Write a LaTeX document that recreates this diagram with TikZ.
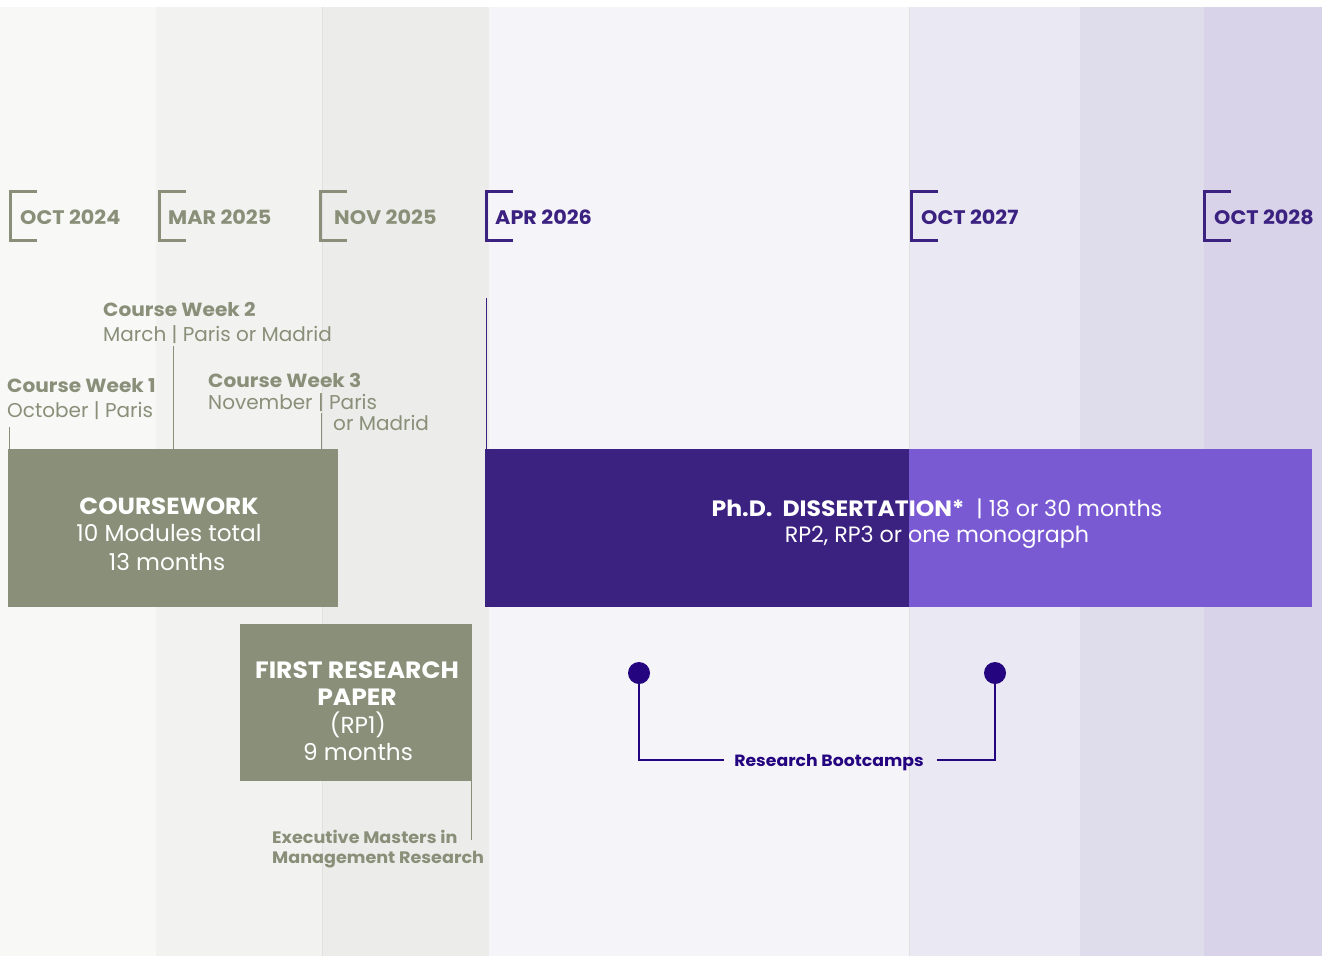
\documentclass[tikz,border=0pt]{standalone}
\usepackage{fontspec}
\setmainfont{Poppins}[BoldFeatures={FakeStretch=1.06}]
\definecolor{bandA}{HTML}{F8F8F6}
\definecolor{bandB}{HTML}{F2F2F0}
\definecolor{bandC}{HTML}{ECECEA}
\definecolor{bandD}{HTML}{F5F4F9}
\definecolor{bandE}{HTML}{EAE8F3}
\definecolor{bandF}{HTML}{DFDCEC}
\definecolor{bandG}{HTML}{D8D3E8}
\definecolor{olive}{HTML}{898F78}
\definecolor{purpleD}{HTML}{3B2180}
\definecolor{purpleL}{HTML}{7A5AD3}
\definecolor{navy}{HTML}{25057F}
\begin{document}
\begin{tikzpicture}[x=1pt,y=-1pt,
  datelbl/.style={anchor=base west,inner sep=0pt,font=\fontsize{19.6}{24}\selectfont\bfseries},
  brk/.style={line width=3pt},
  cwtitle/.style={anchor=base west,inner sep=0pt,text=olive,font=\fontsize{19}{23}\selectfont\bfseries},
  cwsub/.style={anchor=base west,inner sep=0pt,text=olive,font=\fontsize{20}{24}\selectfont},
  thinline/.style={olive,line width=1.3pt},
  boxtxt/.style={anchor=base,inner sep=0pt,text=white,font=\fontsize{23.2}{27}\selectfont},
  boxbold/.style={boxtxt,font=\fontsize{23.3}{27}\selectfont\bfseries},
  dot/.style={circle,fill=navy,minimum size=22pt,inner sep=0pt}]
\useasboundingbox (0,0) rectangle (1322,956);
\fill[white] (0,0) rectangle (1322,956);
% background bands
\fill[bandA] (0,7) rectangle (156,956);
\fill[bandB] (156,7) rectangle (322,956);
\fill[bandC] (322,7) rectangle (489,956);
\fill[bandD] (489,7) rectangle (909,956);
\fill[bandE] (909,7) rectangle (1080,956);
\fill[bandF] (1080,7) rectangle (1204,956);
\fill[bandG] (1204,7) rectangle (1322,956);
\draw[color=black!12,line width=0.6pt] (322.3,7) -- (322.3,956);
\draw[color=black!12,line width=0.6pt] (909.3,7) -- (909.3,956);
% date brackets
\draw[brk,olive] (37,191.5) -- (10,191.5) -- (10,240) -- (37,240);
\draw[brk,olive] (186,191.5) -- (159,191.5) -- (159,240) -- (186,240);
\draw[brk,olive] (347,191.5) -- (320,191.5) -- (320,240) -- (347,240);
\draw[brk,purpleD] (513,191.5) -- (486,191.5) -- (486,240) -- (513,240);
\draw[brk,purpleD] (938,191.5) -- (911,191.5) -- (911,240) -- (938,240);
\draw[brk,purpleD] (1231,191.5) -- (1204,191.5) -- (1204,240) -- (1231,240);
\node[datelbl,text=olive] (d1) at (20,224) {OCT 2024};
\node[datelbl,text=olive] (d2) at (168,224) {MAR 2025};
\node[datelbl,text=olive] (d3) at (334,224) {NOV 2025};
\node[datelbl,text=purpleD] (d4) at (495,224) {APR 2026};
\node[datelbl,text=purpleD] (d5) at (921,224) {OCT 2027};
\node[datelbl,text=purpleD] (d6) at (1214,224) {OCT 2028};
% course weeks
\node[cwtitle] (cw2t) at (103,316) {Course Week 2};
\node[cwsub] (cw2s) at (103,341) {March | Paris or Madrid};
\node[cwtitle] (cw1t) at (7,392) {Course Week 1};
\node[cwsub] (cw1s) at (7,417) {October | Paris};
\node[cwtitle] (cw3t) at (208,387) {Course Week 3};
\node[cwsub] (cw3s) at (208,409) {November | Paris};
\node[cwsub] (cw3m) at (333,430) {or Madrid};
% coursework box
\fill[olive] (8,449) rectangle (338,607);
\node[boxbold] (cwA) at (169,514) {COURSEWORK};
\node[boxtxt] (cwB) at (169,541) {10 Modules total};
\node[boxtxt] (cwC) at (167,570) {13 months};
\coordinate (l1a) at (9.5,427);
\coordinate (l1b) at (9.5,449);
\coordinate (l2a) at (173.5,346);
\coordinate (l2b) at (173.5,449);
\coordinate (l3a) at (321.5,413);
\coordinate (l3b) at (321.5,449);
\draw[thinline] (l1a) -- (l1b);
\draw[thinline] (l2a) -- (l2b);
\draw[thinline] (l3a) -- (l3b);
% dissertation
\coordinate (pv1) at (486.3,298);
\coordinate (pv2) at (486.3,449);
\draw[purpleD,line width=1.5pt] (pv1) -- (pv2);
\fill[purpleD] (485,449) rectangle (909,607);
\fill[purpleL] (909,449) rectangle (1312,607);
\node[boxtxt,font=\fontsize{22.2}{26}\selectfont] (phd) at (937,516) {\textbf{Ph.D.\ \ DISSERTATION*}\ \ | 18 or 30 months};
\node[boxtxt,font=\fontsize{22.2}{26}\selectfont] (rp) at (937,542) {RP2, RP3 or one monograph};
% first research paper
\fill[olive] (240,624) rectangle (472,781);
\node[boxbold,font=\fontsize{23.6}{27}\selectfont\bfseries] (frA) at (357,678) {FIRST RESEARCH};
\node[boxbold,font=\fontsize{23.6}{27}\selectfont\bfseries] (frB) at (357,705) {PAPER};
\node[boxtxt] (frC) at (358,733) {(RP1)};
\node[boxtxt] (frD) at (358,760) {9 months};
\coordinate (em1) at (471.3,781);
\coordinate (em2) at (471.3,840);
\draw[thinline] (em1) -- (em2);
\node[cwtitle,font=\fontsize{16.6}{20}\selectfont\bfseries] (emA) at (272,843) {Executive Masters in};
\node[cwtitle,font=\fontsize{16.6}{20}\selectfont\bfseries] (emB) at (272,863) {Management Research};
% bootcamps
\node[dot] (bc1) at (639,673) {};
\node[dot] (bc2) at (995,673) {};
\node[anchor=base,inner sep=0pt,text=navy,font=\fontsize{16.3}{20}\selectfont\bfseries] (bcl) at (829,766) {Research Bootcamps};
\coordinate (bl) at (724,760);
\coordinate (br) at (937,760);
\draw[navy,line width=2.6pt] (bc1.center) |- (bl);
\draw[navy,line width=2.6pt] (bc2.center) |- (br);
\end{tikzpicture}
\end{document}
